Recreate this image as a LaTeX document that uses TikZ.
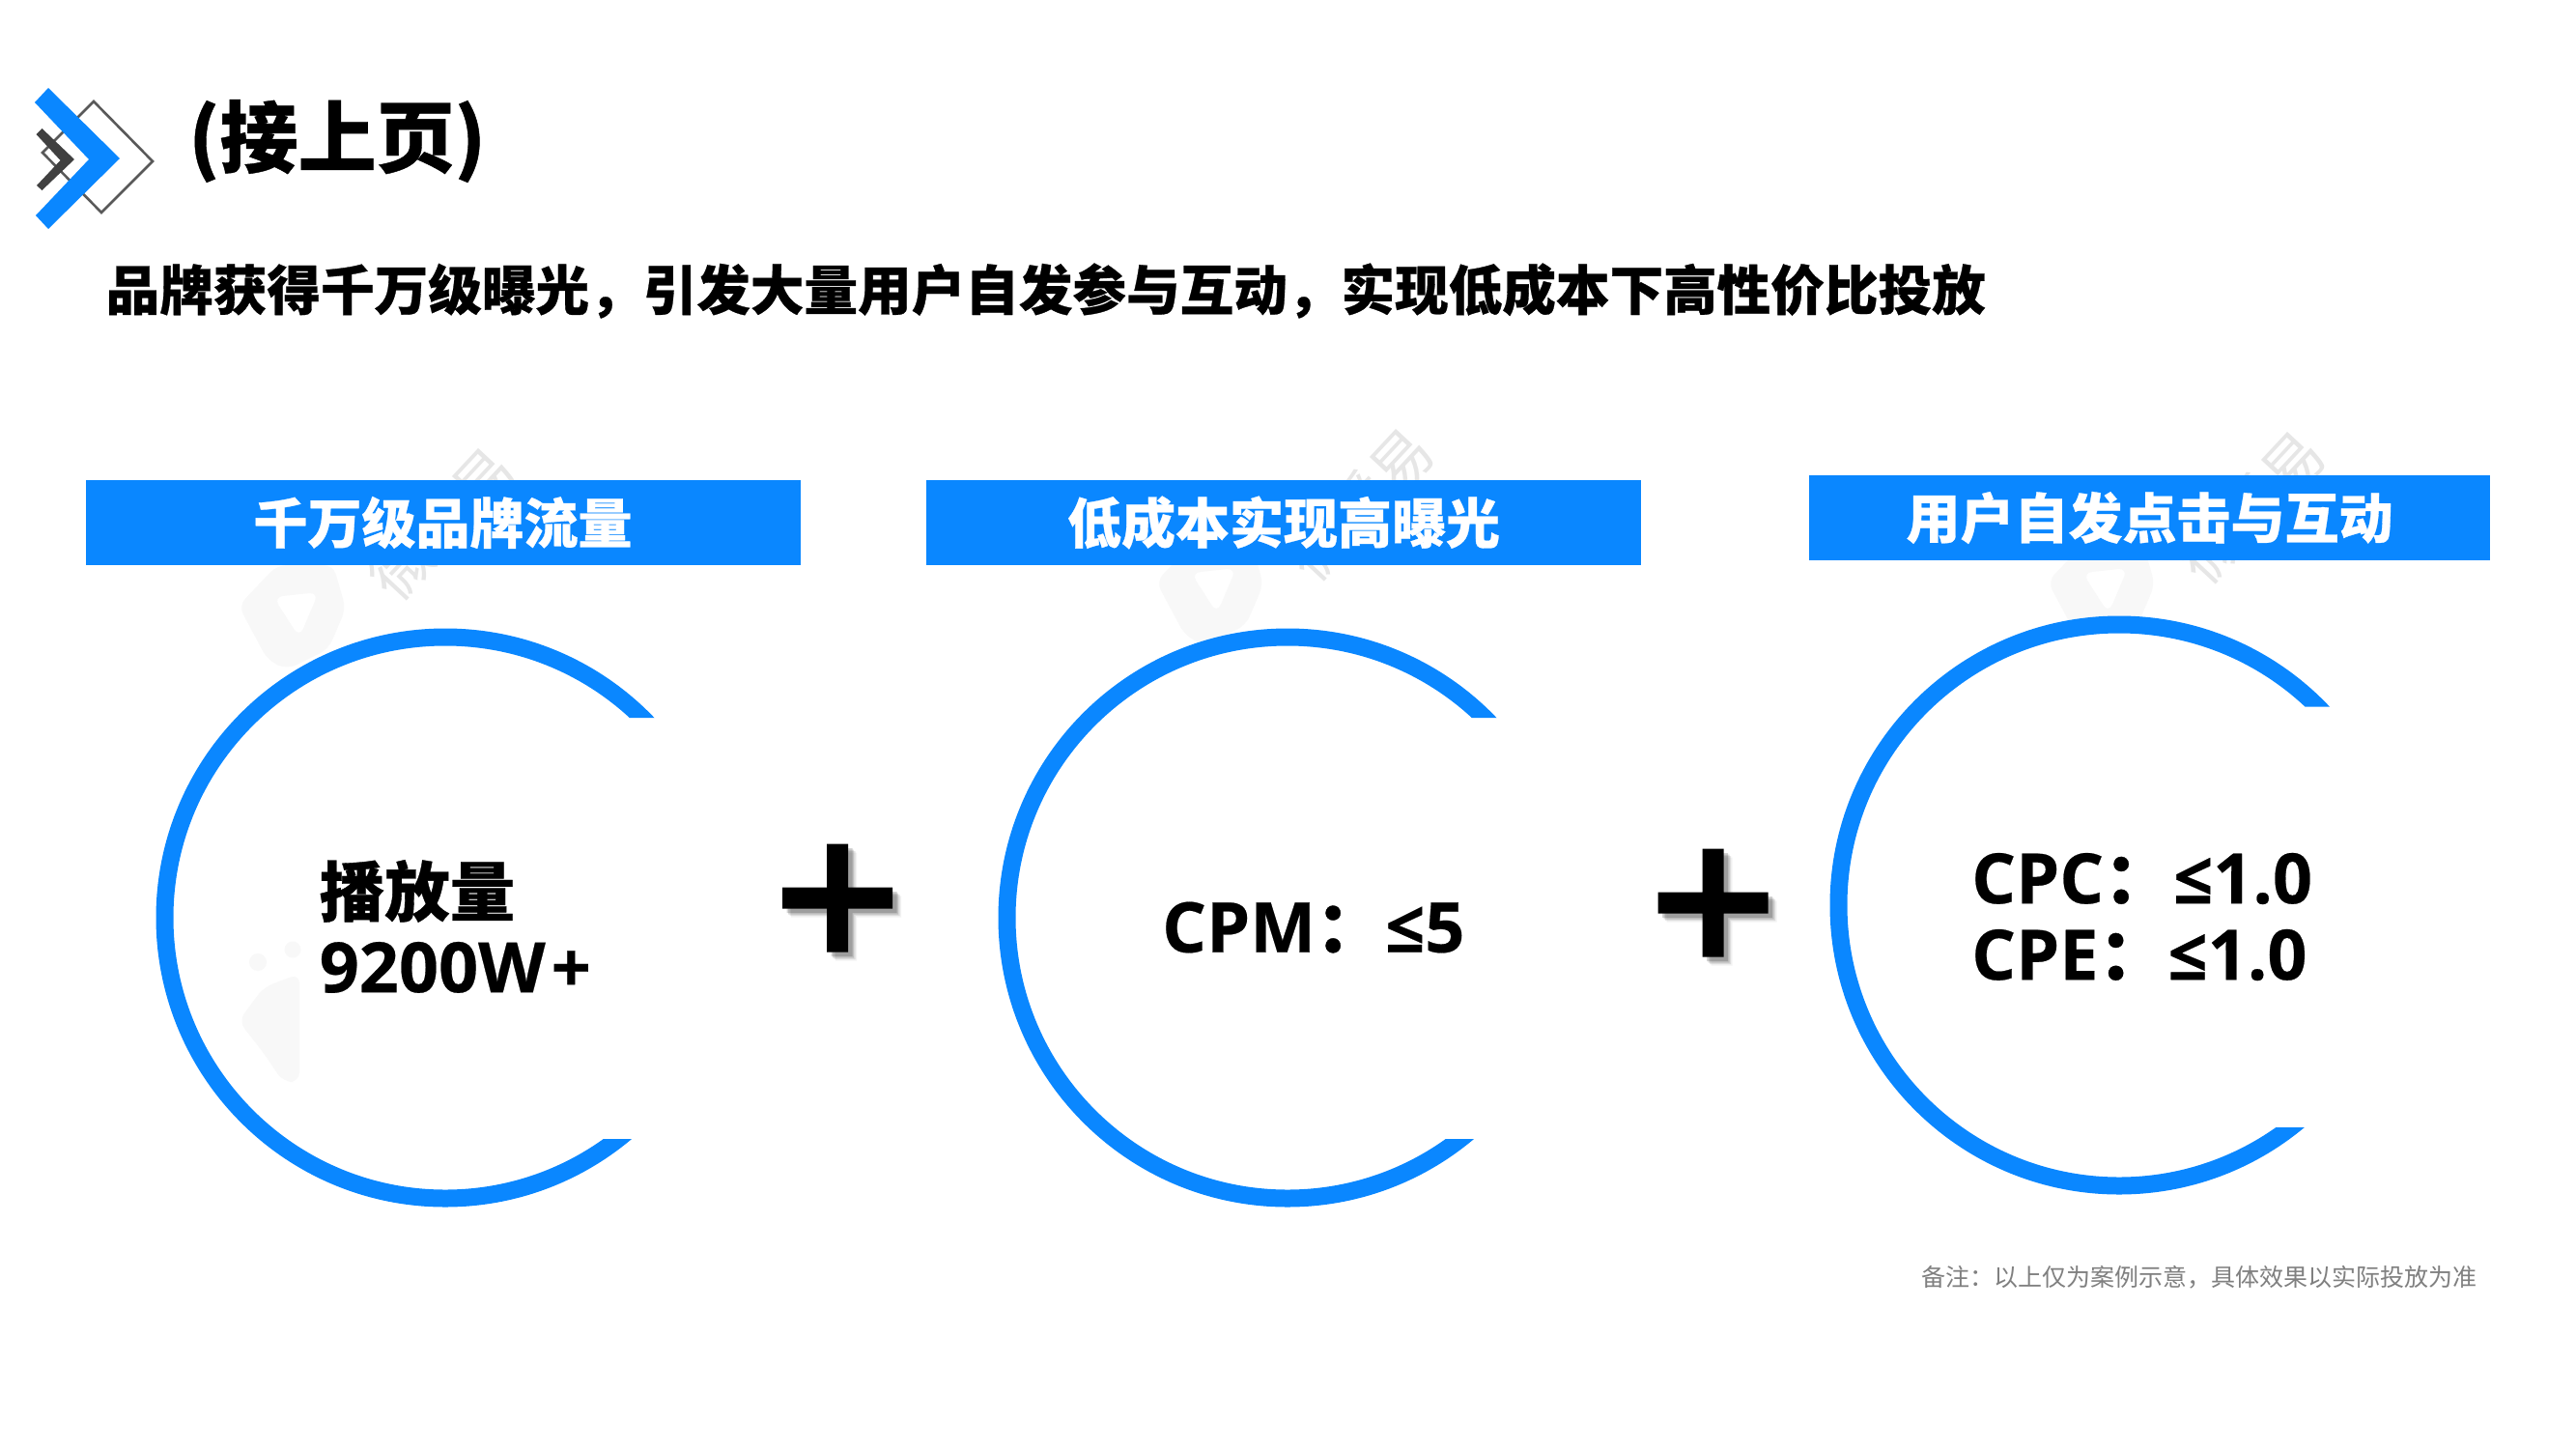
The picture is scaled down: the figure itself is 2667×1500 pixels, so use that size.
\documentclass[tikz,border=0pt]{standalone}
\usepackage{fontspec}
\setmainfont{Open Sans}
\newfontfamily\cjk{Noto Sans CJK SC}[BoldFeatures={FakeBold=0.5}]
\newfontfamily\lat{Open Sans}[BoldFeatures={FakeBold=0.3}]
\definecolor{brand}{HTML}{0A87FF}
\definecolor{note}{HTML}{808080}
\definecolor{wmfill}{HTML}{F8F8F8}
\definecolor{wmtext}{HTML}{E6E6E6}
\tikzset{
  banner/.style={fill=brand,draw=none,minimum height=88pt,inner sep=0pt,text=white,font=\cjk\bfseries\fontsize{56}{56}\selectfont},
  heading/.style={anchor=west,inner sep=0pt},
  bigtext/.style={anchor=west,inner sep=0pt,align=left,font=\lat\bfseries\fontsize{72}{79}\selectfont},
  wmark/.style={text=wmtext,inner sep=0pt,rotate=47,font=\cjk\fontsize{62}{62}\selectfont}
}
\newcommand{\ringshape}[4]{% cx, cy, top cut, bottom cut
  \begin{scope}
    \clip (-10,-10) rectangle (2700,#3) (-10,#4) rectangle (2700,1510) (-10,-10) rectangle (#1,1510);
    \fill[brand,even odd rule] (#1,#2) circle[radius=299.5] (#1,#2) circle[radius=281.5];
  \end{scope}}
\newcommand{\plusshape}[2]{% cx, cy
  \begin{scope}[shift={(#1,#2)}]
    \foreach \o/\a in {9/.05,7.5/.09,6/.13,4.5/.17}{
      \fill[black,opacity=\a,shift={(\o,\o)}] (-11,-56) -- (11,-56) -- (11,-11) -- (57,-11) -- (57,11) -- (11,11) -- (11,56) -- (-11,56) -- (-11,11) -- (-57,11) -- (-57,-11) -- (-11,-11) -- cycle;
    }
    \fill[black] (-11,-56) -- (11,-56) -- (11,-11) -- (57,-11) -- (57,11) -- (11,11) -- (11,56) -- (-11,56) -- (-11,11) -- (-57,11) -- (-57,-11) -- (-11,-11) -- cycle;
  \end{scope}}
\newcommand{\wmlogo}[2]{% x and y offsets of the faint logo
  \begin{scope}[shift={(#1,#2)}]
    \fill[wmfill,even odd rule,rounded corners=10pt] (247,627) -- (287,585) -- (345,585) -- (358,630) -- (340,672) -- (297,693) -- (277,683) -- cycle
      (283,618) -- (330,613) -- (310,660) -- cycle;
  \end{scope}}
\begin{document}
\begin{tikzpicture}[x=1pt,y=-1pt]
\useasboundingbox (0,0) rectangle (2667,1500);
\fill[white] (0,0) rectangle (2667,1500);
% faint watermarks
\wmlogo{0}{0}
\wmlogo{950}{-25}
\wmlogo{1873}{-25}
\node[wmark] (w1) at (458,542) {微播易};
\node[wmark] (w2) at (1408,522) {微播易};
\node[wmark] (w3) at (2331,525) {微播易};
\fill[wmfill] (267,996) circle[radius=9];
\fill[wmfill] (303,983) circle[radius=8.5];
\fill[wmfill,rounded corners=10pt] (247,1057) -- (273,1022) -- (310,1008) -- (310,1120) -- (293,1120) -- (273,1090) -- cycle;
\fill[white] (1333,950) circle[radius=285];
\fill[white] (2194,937) circle[radius=285];
% logo
\draw[color=black!65,line width=2.6pt] (97,105) -- (158,167) -- (105,220) -- (44,158) -- cycle;
\fill[brand] (50,91) -- (124,164) -- (50,237) -- (37,223) -- (92,165) -- (36,106) -- cycle;
\fill[black!75] (43.5,133) -- (77,165) -- (43.5,197) -- (38,192) -- (62.5,166) -- (37.5,139) -- cycle;
% titles
\node[heading,font=\cjk\bfseries\fontsize{81}{81}\selectfont] (title) at (195,146) {(接上页)};
\node[heading,font=\cjk\bfseries\fontsize{55.6}{56}\selectfont] (sub) at (109.5,301) {品牌获得千万级曝光，引发大量用户自发参与互动，实现低成本下高性价比投放};
% banners
\node[banner,minimum width=740pt] (b1) at (458.5,541) {千万级品牌流量};
\node[banner,minimum width=740pt] (b2) at (1329,541) {低成本实现高曝光};
\node[banner,minimum width=705pt] (b3) at (2225.5,536) {用户自发点击与互动};
% rings
\ringshape{461}{950}{743}{1179}
\ringshape{1333}{950}{743}{1179}
\ringshape{2194}{937}{731.5}{1167}
% ring texts
\node[bigtext] (t1) at (330.5,959) {{\cjk\bfseries\fontsize{67.5}{79}\selectfont 播放量}\\9200W\kern 6pt+};
\node[bigtext] (t2) at (1203,960) {CPM{\cjk\bfseries ：}≤5};
\node[bigtext] (t3) at (2041,949) {CPC{\cjk\bfseries ：}≤1.0\\CPE{\cjk\bfseries ：}≤1.0};
% plus signs
\plusshape{867}{929.5}
\plusshape{1773.5}{934.5}
% note
\node[anchor=west,inner sep=0pt,text=note,font=\cjk\fontsize{25}{25}\selectfont] (n) at (1989,1322.5) {备注：以上仅为案例示意，具体效果以实际投放为准};
\end{tikzpicture}
\end{document}
